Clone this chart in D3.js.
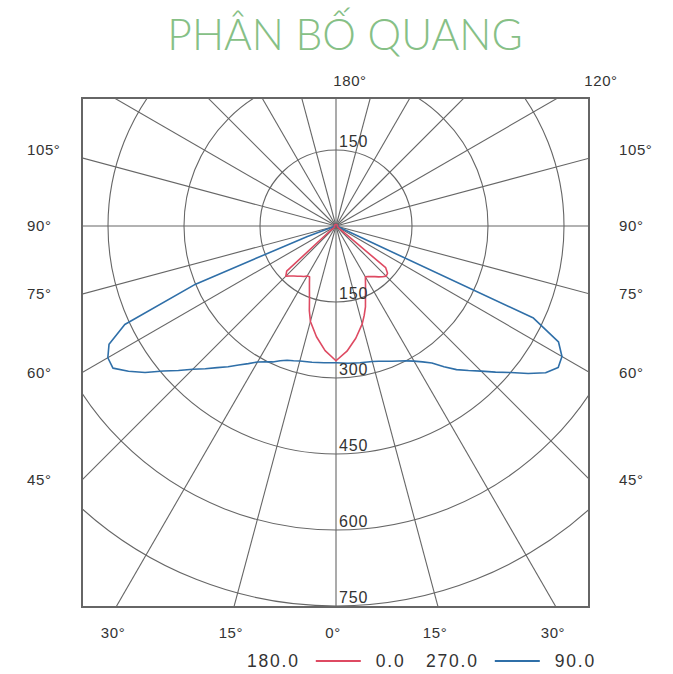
<!DOCTYPE html>
<html>
<head>
<meta charset="utf-8">
<script src="https://cdn.jsdelivr.net/npm/d3@7"></script>
<style>
  html, body { margin: 0; padding: 0; background: #fff; }
  svg { display: block; }
</style>
</head>
<body>
<svg id="chart" width="673" height="674"></svg>
<script>
// Polar luminous intensity distribution (cd), gamma measured from nadir.
const titleText = "PHÂN BỐ QUANG";

const gammaAngles = [0, 5, 10, 15, 17.5, 20, 22.5, 25, 27.5, 30, 32.5, 35, 37.5, 40, 42.5, 45, 47.5, 50,
  52.5, 55, 57.5, 60, 62.5, 65, 67.5, 70, 72.5, 75, 80, 85, 90, 105, 120, 135, 150, 165, 180];

// C0 / C180 plane
const c0 = [266, 248, 225, 200, 185, 170, 152, 138, 126, 116, 118, 122, 126, 131, 136, 140, 138, 128,
  10, 5, 4, 4, 3, 3, 3, 3, 3, 3, 3, 3, 3, 3, 3, 3, 3, 3, 3];
const c180 = [266, 247, 222, 195, 175, 153, 137, 124, 113, 114, 118, 121, 125, 129, 134, 140, 132, 20,
  5, 4, 3, 3, 3, 3, 3, 3, 3, 3, 3, 3, 3, 3, 3, 3, 3, 3, 3];

// C90 / C270 plane
const c90 = [270, 272, 274, 277, 280, 284, 289, 294, 300, 308, 318, 330, 350, 370, 387, 405, 427, 450,
  478, 505, 520, 515, 495, 430, 8, 5, 4, 4, 3, 3, 3, 3, 3, 3, 3, 3, 3];
const c270 = [270, 271, 273, 276, 279, 282, 288, 296, 302, 310, 322, 335, 350, 365, 382, 400, 422, 445,
  475, 500, 522, 520, 505, 460, 300, 60, 8, 4, 3, 3, 3, 3, 3, 3, 3, 3, 3];

const ringValues = [150, 300, 450, 600, 750];
const spokeStep = 15;

const leftAngleLabels = [105, 90, 75, 60, 45];
const rightAngleLabels = [105, 90, 75, 60, 45];
const bottomAngleLabels = [-30, -15, 0, 15, 30];
const topLabels = ["180°", "120°"];

const legendItems = [
  { left: "180.0", right: "0.0", color: "#de4a62" },
  { left: "270.0", right: "90.0", color: "#2f6fa8" }
];

// ---- layout ----
const svg = d3.select("#chart");
const box = { x0: 82, y0: 98, x1: 589, y1: 607 };
const cx = 336, cy = 226;
const r = d3.scaleLinear().domain([0, 750]).range([0, 380]);

const textFont = "'Liberation Sans', Arial, sans-serif";
const gridColor = "#666";

svg.append("defs").append("clipPath").attr("id", "plotClip")
  .append("rect")
  .attr("x", box.x0).attr("y", box.y0)
  .attr("width", box.x1 - box.x0).attr("height", box.y1 - box.y0);

// title
svg.append("text")
  .attr("x", 345).attr("y", 50)
  .attr("text-anchor", "middle")
  .attr("font-family", "Lato, 'Open Sans', sans-serif")
  .attr("font-weight", 300)
  .attr("font-size", 42.5)
  .attr("fill", "#86c086")
  .text(titleText);

const plot = svg.append("g").attr("clip-path", "url(#plotClip)");
const toRad = d => d * Math.PI / 180;

// spokes every 15 degrees
const spokes = d3.range(0, 360, spokeStep);
plot.selectAll("line.spoke").data(spokes).join("line")
  .attr("class", "spoke")
  .attr("x1", cx).attr("y1", cy)
  .attr("x2", d => cx + 1000 * Math.sin(toRad(d)))
  .attr("y2", d => cy + 1000 * Math.cos(toRad(d)))
  .attr("stroke", gridColor).attr("stroke-width", 1.1);

// rings
plot.selectAll("circle.ring").data(ringValues).join("circle")
  .attr("class", "ring")
  .attr("cx", cx).attr("cy", cy).attr("r", d => r(d))
  .attr("fill", "none").attr("stroke", gridColor).attr("stroke-width", 1.1);

// ring value labels (below centre), plus the first ring above centre
const ringLabels = svg.append("g")
  .attr("font-family", textFont).attr("font-size", 16).attr("letter-spacing", 0.8)
  .attr("fill", "#333");
ringLabels.selectAll("text.below").data(ringValues).join("text")
  .attr("class", "below")
  .attr("x", cx + 3).attr("y", d => cy + r(d) - 3)
  .text(d => d);
ringLabels.append("text")
  .attr("x", cx + 3).attr("y", cy - r(ringValues[0]) - 3)
  .text(ringValues[0]);

// intensity curves, built with d3.lineRadial (angle measured clockwise from up)
const radial = d3.lineRadial()
  .angle(d => d.a)
  .radius(d => r(d.v))
  .curve(d3.curveLinear);

function planePoints(rightVals, leftVals) {
  const right = gammaAngles.map((g, i) => ({ a: Math.PI - toRad(g), v: rightVals[i] }));
  const left = gammaAngles.map((g, i) => ({ a: Math.PI + toRad(g), v: leftVals[i] })).reverse();
  return right.concat(left);
}

const curves = plot.append("g").attr("transform", `translate(${cx},${cy})`);
curves.append("path")
  .datum(planePoints(c90, c270))
  .attr("d", d => radial(d) + "Z")
  .attr("fill", "none").attr("stroke", legendItems[1].color)
  .attr("stroke-width", 1.6).attr("stroke-linejoin", "round");
curves.append("path")
  .datum(planePoints(c0, c180))
  .attr("d", d => radial(d) + "Z")
  .attr("fill", "none").attr("stroke", legendItems[0].color)
  .attr("stroke-width", 1.6).attr("stroke-linejoin", "round");

// frame
svg.append("rect")
  .attr("x", box.x0).attr("y", box.y0)
  .attr("width", box.x1 - box.x0).attr("height", box.y1 - box.y0)
  .attr("fill", "none").attr("stroke", "#666").attr("stroke-width", 2);

// angle labels
const angleG = svg.append("g")
  .attr("font-family", textFont).attr("font-size", 15).attr("letter-spacing", 0.6)
  .attr("fill", "#333");

function sideY(angle) {
  // y where the spoke at this gamma meets a vertical side of the frame
  const t = toRad(angle);
  const dx = cx - box.x0;
  return cy + dx * Math.cos(t) / Math.sin(t);
}
angleG.selectAll("text.left").data(leftAngleLabels).join("text")
  .attr("class", "left")
  .attr("x", 27).attr("y", d => sideY(d) + (d > 90 ? -3 : 5))
  .text(d => d + "°");
angleG.selectAll("text.right").data(rightAngleLabels).join("text")
  .attr("class", "right")
  .attr("x", 619).attr("y", d => sideY(d) + (d > 90 ? -3 : 5))
  .text(d => d + "°");
angleG.selectAll("text.bottom").data(bottomAngleLabels).join("text")
  .attr("class", "bottom")
  .attr("text-anchor", "middle")
  .attr("x", d => cx + (box.y1 - cy) * Math.tan(toRad(d)) - 3)
  .attr("y", 638)
  .text(d => Math.abs(d) + "°");
angleG.append("text").attr("x", 350).attr("y", 86).attr("text-anchor", "middle").text(topLabels[0]);
angleG.append("text").attr("x", 601).attr("y", 86).attr("text-anchor", "middle").text(topLabels[1]);

// legend
const legend = svg.append("g")
  .attr("font-family", textFont).attr("font-size", 17.5).attr("letter-spacing", 1.8)
  .attr("fill", "#333");
const legendX = [247, 426];
legendItems.forEach((item, i) => {
  const g = legend.append("g").attr("transform", `translate(${legendX[i]},667)`);
  const t1 = g.append("text").attr("x", 0).attr("y", 0).text(item.left);
  const w = t1.node().getComputedTextLength();
  g.append("line")
    .attr("x1", w + 16).attr("x2", w + 61)
    .attr("y1", -6).attr("y2", -6)
    .attr("stroke", item.color).attr("stroke-width", 2);
  g.append("text").attr("x", w + 76).attr("y", 0).text(item.right);
});
</script>
</body>
</html>
